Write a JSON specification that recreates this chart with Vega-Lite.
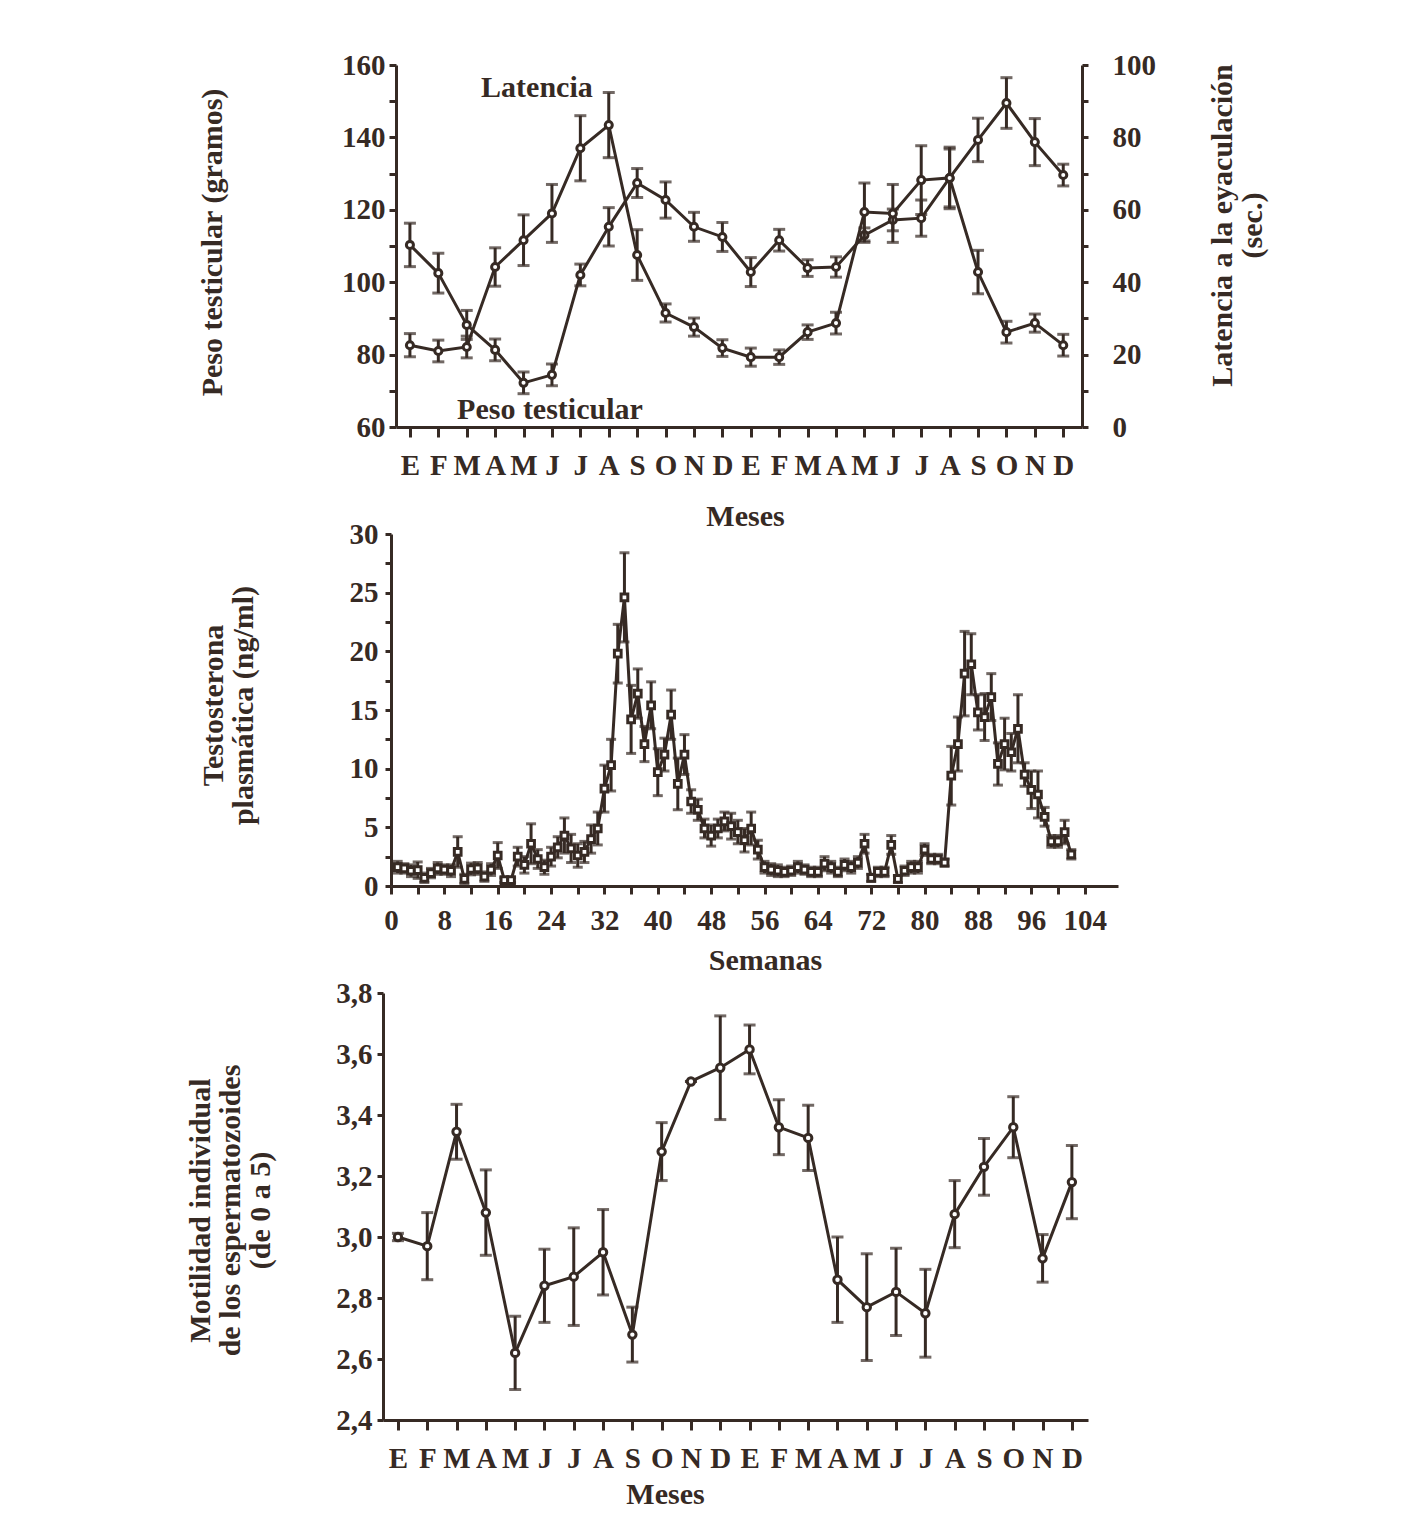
{
  "$schema": "https://vega.github.io/schema/vega-lite/v6.json",
  "autosize": {"type": "none"},
  "padding": {"left": 383, "top": 65, "right": 1024, "bottom": 1467},
  "background": "white",
  "bounds": "flush",
  "spacing": 107,
  "config": {
    "font": "Liberation Serif",
    "view": {"stroke": null},
    "axis": {
      "grid": false,
      "labelFont": "Liberation Serif",
      "labelFontWeight": "bold",
      "labelFontSize": 29,
      "labelColor": "#362a24",
      "titleFont": "Liberation Serif",
      "titleFontWeight": "bold",
      "titleFontSize": 30,
      "titleColor": "#362a24",
      "titleLineHeight": 30,
      "domainColor": "#362a24",
      "domainWidth": 3,
      "tickColor": "#362a24",
      "tickWidth": 3,
      "labelOverlap": false,
      "labelFlush": false,
      "labelBound": false
    },
    "text": {"font": "Liberation Serif"}
  },
  "vconcat": [
    {
      "width": 699,
      "height": 362,
      "data": {"values": [
        {"m": 0, "peso": 110.3, "pe": 6, "lat": 22.6, "le": 3.2},
        {"m": 1, "peso": 102.5, "pe": 5.5, "lat": 21, "le": 3},
        {"m": 2, "peso": 88.2, "pe": 4, "lat": 22.1, "le": 3},
        {"m": 3, "peso": 81.3, "pe": 3, "lat": 44.2, "le": 5.3},
        {"m": 4, "peso": 72.2, "pe": 3, "lat": 51.6, "le": 7},
        {"m": 5, "peso": 74.4, "pe": 3, "lat": 59, "le": 8},
        {"m": 6, "peso": 102, "pe": 3, "lat": 77, "le": 9},
        {"m": 7, "peso": 115.3, "pe": 5.3, "lat": 83.4, "le": 9},
        {"m": 8, "peso": 127.4, "pe": 4, "lat": 47.5, "le": 7},
        {"m": 9, "peso": 122.7, "pe": 5, "lat": 31.5, "le": 2.5},
        {"m": 10, "peso": 115.3, "pe": 4, "lat": 27.6, "le": 2.5},
        {"m": 11, "peso": 112.5, "pe": 4, "lat": 21.8, "le": 2.3},
        {"m": 12, "peso": 102.8, "pe": 4, "lat": 19.3, "le": 2.5},
        {"m": 13, "peso": 111.6, "pe": 3, "lat": 19.3, "le": 2},
        {"m": 14, "peso": 103.9, "pe": 2.3, "lat": 26.2, "le": 2},
        {"m": 15, "peso": 104.2, "pe": 2.8, "lat": 28.7, "le": 3},
        {"m": 16, "peso": 113, "pe": 2, "lat": 59.4, "le": 8},
        {"m": 17, "peso": 117.2, "pe": 3, "lat": 59, "le": 8},
        {"m": 18, "peso": 117.7, "pe": 5, "lat": 68.2, "le": 9.5},
        {"m": 19, "peso": 128.8, "pe": 8.5, "lat": 68.8, "le": 8},
        {"m": 20, "peso": 139.3, "pe": 6, "lat": 42.8, "le": 6},
        {"m": 21, "peso": 149.5, "pe": 7, "lat": 26.2, "le": 3},
        {"m": 22, "peso": 138.7, "pe": 6.5, "lat": 28.7, "le": 2.5},
        {"m": 23, "peso": 129.6, "pe": 3, "lat": 22.6, "le": 3}
      ]},
      "encoding": {
        "x": {"field": "m", "type": "quantitative",
          "scale": {"domain": [-0.49, 23.66], "range": [13, 699], "nice": false, "zero": false},
          "axis": {"values": [0,1,2,3,4,5,6,7,8,9,10,11,12,13,14,15,16,17,18,19,20,21,22,23],
            "labelExpr": "['E','F','M','A','M','J','J','A','S','O','N','D'][datum.value % 12]",
            "labelOverlap": false, "labelBound": false,
            "tickSize": 10, "labelPadding": 14,
            "title": "Meses", "titleX": 362, "titleY": 89, "titleBaseline": "middle", "titleAlign": "center"}}
      },
      "layer": [
        {
          "encoding": {
            "y": {"field": "peso", "type": "quantitative",
              "scale": {"domain": [60, 160], "nice": false, "zero": false},
              "axis": {"orient": "left", "offset": -13,
                "values": [60,70,80,90,100,110,120,130,140,150,160],
                "labelExpr": "datum.value % 20 == 0 ? datum.label : ''",
                "tickSize": 7, "labelPadding": 4,
                "title": "Peso testicular (gramos)", "titleAngle": -90,
                "titleX": -184, "titleY": 177, "titleBaseline": "middle", "titleAlign": "center"}}
          },
          "layer": [
            {"mark": {"type": "line", "color": "#362a24", "strokeWidth": 3}},
            {"mark": {"type": "errorbar", "ticks": true, "size": 12, "thickness": 3, "color": "#362a24"},
             "encoding": {"yError": {"field": "pe"}}},
            {"mark": {"type": "point", "shape": "circle", "filled": true, "fill": "white", "stroke": "#362a24", "strokeWidth": 3, "size": 50, "opacity": 1}},
            {
              "data": {"values": [
                {"tx": 4.47, "ty": 153.6, "label": "Latencia"},
                {"tx": 4.93, "ty": 64.7, "label": "Peso testicular"}
              ]},
              "mark": {"type": "text", "font": "Liberation Serif", "fontWeight": "bold", "fontSize": 30, "color": "#362a24", "align": "center", "baseline": "middle"},
              "encoding": {
                "x": {"field": "tx", "type": "quantitative"},
                "y": {"field": "ty", "type": "quantitative"},
                "text": {"field": "label"}
              }
            }
          ]
        },
        {
          "encoding": {
            "y": {"field": "lat", "type": "quantitative",
              "scale": {"domain": [0, 100], "nice": false, "zero": false},
              "axis": {"orient": "right",
                "values": [0,10,20,30,40,50,60,70,80,90,100],
                "labelExpr": "datum.value % 20 == 0 ? datum.label : ''",
                "tickSize": 6, "labelPadding": 24,
                "title": ["Latencia a la eyaculación", "(sec.)"], "titleAngle": -90,
                "titleX": 140, "titleY": 160, "titleBaseline": "middle", "titleAlign": "center"}}
          },
          "layer": [
            {"mark": {"type": "line", "color": "#362a24", "strokeWidth": 3}},
            {"mark": {"type": "errorbar", "ticks": true, "size": 12, "thickness": 3, "color": "#362a24"},
             "encoding": {"yError": {"field": "le"}}},
            {"mark": {"type": "point", "shape": "circle", "filled": true, "fill": "white", "stroke": "#362a24", "strokeWidth": 3, "size": 50, "opacity": 1}}
          ]
        }
      ],
      "resolve": {"scale": {"y": "independent"}}
    },
    {
      "width": 735,
      "height": 352,
      "data": {"values": [
        {"w": 1, "t": 1.6, "te": 0.5}, {"w": 2, "t": 1.5, "te": 0.4}, {"w": 3, "t": 1.3, "te": 0.5},
        {"w": 4, "t": 1.35, "te": 0.7}, {"w": 5, "t": 0.7, "te": 0.4}, {"w": 6, "t": 1.1, "te": 0.4},
        {"w": 7, "t": 1.5, "te": 0.5}, {"w": 8, "t": 1.4, "te": 0.4}, {"w": 9, "t": 1.3, "te": 0.5},
        {"w": 10, "t": 2.9, "te": 1.3}, {"w": 11, "t": 0.6, "te": 0.4}, {"w": 12, "t": 1.45, "te": 0.5},
        {"w": 13, "t": 1.5, "te": 0.5}, {"w": 14, "t": 0.8, "te": 0.4}, {"w": 15, "t": 1.4, "te": 0.5},
        {"w": 16, "t": 2.6, "te": 1.1}, {"w": 17, "t": 0.5, "te": 0.2}, {"w": 18, "t": 0.5, "te": 0.2},
        {"w": 19, "t": 2.5, "te": 0.8}, {"w": 20, "t": 1.8, "te": 0.7}, {"w": 21, "t": 3.6, "te": 1.7},
        {"w": 22, "t": 2.3, "te": 0.8}, {"w": 23, "t": 1.6, "te": 0.6}, {"w": 24, "t": 2.5, "te": 0.8},
        {"w": 25, "t": 3.3, "te": 0.9}, {"w": 26, "t": 4.3, "te": 1.5}, {"w": 27, "t": 3.2, "te": 1.2},
        {"w": 28, "t": 2.6, "te": 1.0}, {"w": 29, "t": 2.9, "te": 0.9}, {"w": 30, "t": 4.0, "te": 1.2},
        {"w": 31, "t": 4.9, "te": 1.4}, {"w": 32, "t": 8.3, "te": 2.0}, {"w": 33, "t": 10.3, "te": 2.2},
        {"w": 34, "t": 19.8, "te": 2.5}, {"w": 35, "t": 24.6, "te": 3.8}, {"w": 36, "t": 14.2, "te": 2.9},
        {"w": 37, "t": 16.4, "te": 2.1}, {"w": 38, "t": 12.1, "te": 1.5}, {"w": 39, "t": 15.4, "te": 2.0},
        {"w": 40, "t": 9.7, "te": 2.0}, {"w": 41, "t": 11.2, "te": 1.4}, {"w": 42, "t": 14.6, "te": 2.1},
        {"w": 43, "t": 8.7, "te": 2.2}, {"w": 44, "t": 11.2, "te": 1.7}, {"w": 45, "t": 7.2, "te": 1.0},
        {"w": 46, "t": 6.5, "te": 0.9}, {"w": 47, "t": 4.9, "te": 0.8}, {"w": 48, "t": 4.3, "te": 0.9},
        {"w": 49, "t": 4.9, "te": 0.8}, {"w": 50, "t": 5.5, "te": 0.8}, {"w": 51, "t": 5.1, "te": 1.1},
        {"w": 52, "t": 4.6, "te": 1.0}, {"w": 53, "t": 3.9, "te": 1.0}, {"w": 54, "t": 4.9, "te": 1.4},
        {"w": 55, "t": 3.1, "te": 0.8}, {"w": 56, "t": 1.6, "te": 0.5}, {"w": 57, "t": 1.4, "te": 0.5},
        {"w": 58, "t": 1.3, "te": 0.5}, {"w": 59, "t": 1.2, "te": 0.4}, {"w": 60, "t": 1.3, "te": 0.4},
        {"w": 61, "t": 1.6, "te": 0.5}, {"w": 62, "t": 1.4, "te": 0.4}, {"w": 63, "t": 1.2, "te": 0.4},
        {"w": 64, "t": 1.2, "te": 0.4}, {"w": 65, "t": 1.9, "te": 0.6}, {"w": 66, "t": 1.6, "te": 0.5},
        {"w": 67, "t": 1.2, "te": 0.4}, {"w": 68, "t": 1.8, "te": 0.5}, {"w": 69, "t": 1.6, "te": 0.5},
        {"w": 70, "t": 2.0, "te": 0.5}, {"w": 71, "t": 3.6, "te": 0.8}, {"w": 72, "t": 0.7, "te": 0.3},
        {"w": 73, "t": 1.2, "te": 0.4}, {"w": 74, "t": 1.2, "te": 0.4}, {"w": 75, "t": 3.5, "te": 0.8},
        {"w": 76, "t": 0.6, "te": 0.3}, {"w": 77, "t": 1.3, "te": 0.4}, {"w": 78, "t": 1.6, "te": 0.5},
        {"w": 79, "t": 1.6, "te": 0.5}, {"w": 80, "t": 3.1, "te": 0.5}, {"w": 81, "t": 2.3, "te": 0.4},
        {"w": 82, "t": 2.3, "te": 0.4}, {"w": 83, "t": 2.0, "te": 0.3}, {"w": 84, "t": 9.4, "te": 2.5},
        {"w": 85, "t": 12.1, "te": 2.3}, {"w": 86, "t": 18.1, "te": 3.6}, {"w": 87, "t": 18.9, "te": 2.6},
        {"w": 88, "t": 14.8, "te": 1.5}, {"w": 89, "t": 14.4, "te": 2.0}, {"w": 90, "t": 16.1, "te": 2.0},
        {"w": 91, "t": 10.4, "te": 1.8}, {"w": 92, "t": 12.1, "te": 2.2}, {"w": 93, "t": 11.4, "te": 1.6},
        {"w": 94, "t": 13.4, "te": 2.9}, {"w": 95, "t": 9.5, "te": 1.0}, {"w": 96, "t": 8.2, "te": 1.6},
        {"w": 97, "t": 7.8, "te": 2.0}, {"w": 98, "t": 5.9, "te": 0.8}, {"w": 99, "t": 3.8, "te": 0.5},
        {"w": 100, "t": 3.8, "te": 0.5}, {"w": 101, "t": 4.6, "te": 1.0}, {"w": 102, "t": 2.7, "te": 0.4}
      ]},
      "encoding": {
        "x": {"field": "w", "type": "quantitative",
          "scale": {"domain": [0, 109], "range": [8, 735], "nice": false, "zero": false},
          "axis": {"values": [0,4,8,12,16,20,24,28,32,36,40,44,48,52,56,60,64,68,72,76,80,84,88,92,96,100,104],
            "labelExpr": "datum.value % 8 == 0 ? datum.label : ''",
            "tickSize": 8, "labelPadding": 12,
            "title": "Semanas", "titleX": 382, "titleY": 74, "titleBaseline": "middle", "titleAlign": "center"}},
        "y": {"field": "t", "type": "quantitative",
          "scale": {"domain": [0, 30], "nice": false, "zero": false},
          "axis": {"orient": "left", "offset": -8,
            "values": [0,2.5,5,7.5,10,12.5,15,17.5,20,22.5,25,27.5,30],
            "labelExpr": "datum.value % 5 == 0 ? datum.label : ''",
            "tickSize": 6, "labelPadding": 7,
            "title": ["Testosterona", "plasmática (ng/ml)"], "titleAngle": -90,
            "titleX": -178, "titleY": 171, "titleBaseline": "middle", "titleAlign": "center"}}
      },
      "layer": [
        {"mark": {"type": "line", "color": "#362a24", "strokeWidth": 3}},
        {"mark": {"type": "errorbar", "ticks": true, "size": 10, "thickness": 3, "color": "#362a24"},
         "encoding": {"yError": {"field": "te"}}},
        {"mark": {"type": "point", "shape": "square", "filled": true, "fill": "white", "stroke": "#362a24", "strokeWidth": 3, "size": 45, "opacity": 1}}
      ]
    },
    {
      "width": 705,
      "height": 427,
      "data": {"values": [
        {"m": 0, "v": 3.0, "e": 0.012},
        {"m": 1, "v": 2.97, "e": 0.11},
        {"m": 2, "v": 3.345, "e": 0.09},
        {"m": 3, "v": 3.08, "e": 0.14},
        {"m": 4, "v": 2.62, "e": 0.12},
        {"m": 5, "v": 2.84, "e": 0.12},
        {"m": 6, "v": 2.87, "e": 0.16},
        {"m": 7, "v": 2.95, "e": 0.14},
        {"m": 8, "v": 2.68, "e": 0.09},
        {"m": 9, "v": 3.28, "e": 0.095},
        {"m": 10, "v": 3.51, "e": 0.0},
        {"m": 11, "v": 3.555, "e": 0.17},
        {"m": 12, "v": 3.615, "e": 0.08},
        {"m": 13, "v": 3.36, "e": 0.09},
        {"m": 14, "v": 3.325, "e": 0.107},
        {"m": 15, "v": 2.86, "e": 0.14},
        {"m": 16, "v": 2.77, "e": 0.175},
        {"m": 17, "v": 2.82, "e": 0.143},
        {"m": 18, "v": 2.75, "e": 0.144},
        {"m": 19, "v": 3.075, "e": 0.11},
        {"m": 20, "v": 3.23, "e": 0.093},
        {"m": 21, "v": 3.36, "e": 0.1},
        {"m": 22, "v": 2.93, "e": 0.078},
        {"m": 23, "v": 3.18, "e": 0.12}
      ]},
      "encoding": {
        "x": {"field": "m", "type": "quantitative",
          "scale": {"domain": [-0.51, 23.55], "nice": false, "zero": false},
          "axis": {"values": [0,1,2,3,4,5,6,7,8,9,10,11,12,13,14,15,16,17,18,19,20,21,22,23],
            "labelExpr": "['E','F','M','A','M','J','J','A','S','O','N','D'][datum.value % 12]",
            "labelOverlap": false, "labelBound": false,
            "tickSize": 10, "labelPadding": 14,
            "title": "Meses", "titleX": 282, "titleY": 74, "titleBaseline": "middle", "titleAlign": "center"}},
        "y": {"field": "v", "type": "quantitative",
          "scale": {"domain": [2.4, 3.8], "nice": false, "zero": false},
          "axis": {"orient": "left",
            "values": [2.4, 2.6, 2.8, 3.0, 3.2, 3.4, 3.6, 3.8],
            "labelExpr": "replace(format(datum.value, '.1f'), '.', ',')",
            "tickSize": 6, "labelPadding": 5,
            "title": ["Motilidad individual", "de los espermatozoides", "(de 0 a 5)"], "titleAngle": -90,
            "titleX": -183, "titleY": 217, "titleBaseline": "middle", "titleAlign": "center"}}
      },
      "layer": [
        {"mark": {"type": "line", "color": "#362a24", "strokeWidth": 3}},
        {"mark": {"type": "errorbar", "ticks": true, "size": 12, "thickness": 3, "color": "#362a24"},
         "encoding": {"yError": {"field": "e"}}},
        {"mark": {"type": "point", "shape": "circle", "filled": true, "fill": "white", "stroke": "#362a24", "strokeWidth": 3, "size": 55, "opacity": 1}}
      ]
    }
  ]
}
